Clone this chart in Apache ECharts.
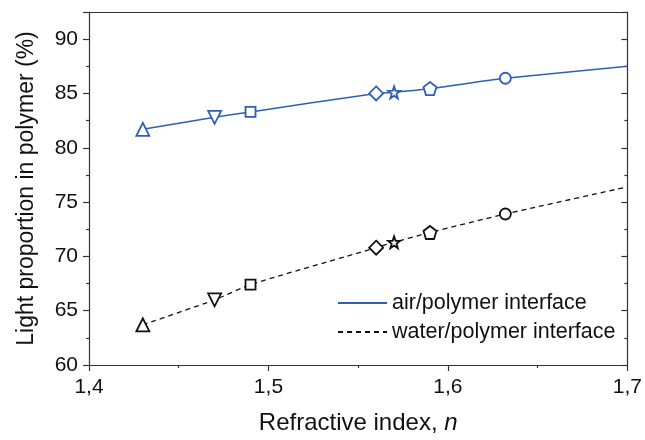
<!DOCTYPE html>
<html>
<head>
<meta charset="utf-8">
<script src="https://cdn.jsdelivr.net/npm/echarts@6/dist/echarts.min.js"></script>
<style>html,body{margin:0;padding:0;background:#fff}#c{width:645px;height:440px}</style>
</head>
<body>
<div id="c"></div>
<script>
// Data
var nValues = [1.43, 1.47, 1.49, 1.56, 1.57, 1.59, 1.632];
var markerShapes = ['triangle', 'triangleDown', 'rect', 'diamond', 'star', 'pentagon', 'circle'];
var airValues = [81.7, 82.8, 83.3, 85.0, 85.1, 85.45, 86.4];
var waterValues = [63.7, 66.0, 67.4, 70.8, 71.3, 72.2, 73.9];
var endN = 1.7;
var airEnd = 87.5;
var waterEnd = 76.4;
var xTicks = [1.4, 1.5, 1.6, 1.7];
var yTicks = [60, 65, 70, 75, 80, 85, 90];
var seriesNames = ['air/polymer interface', 'water/polymer interface'];

var STAR = 'path://M50,0L61.76,33.82L97.55,34.55L69.02,56.18L79.39,90.45L50,70L20.61,90.45L30.98,56.18L2.45,34.55L38.24,33.82Z';
var PENT = 'path://M50,0L97.55,34.55L79.39,90.45L20.61,90.45L2.45,34.55Z';
function shapeOf(s) {
  if (s === 'triangleDown') return {symbol: 'triangle', rotate: 180, size: 13};
  if (s === 'star') return {symbol: STAR, rotate: 0, size: 12};
  if (s === 'pentagon') return {symbol: PENT, rotate: 0, size: 13};
  if (s === 'rect') return {symbol: 'rect', rotate: 0, size: 10};
  if (s === 'diamond') return {symbol: 'diamond', rotate: 0, size: 14};
  if (s === 'triangle') return {symbol: 'triangle', rotate: 0, size: 13};
  return {symbol: 'circle', rotate: 0, size: 11};
}
function buildData(vals, endVal) {
  var d = nValues.map(function (n, i) {
    var sh = shapeOf(markerShapes[i]);
    return {value: [n, vals[i]], symbol: sh.symbol, symbolRotate: sh.rotate, symbolSize: sh.size};
  });
  d.push({value: [endN, endVal], symbol: 'none'});
  return d;
}
var BLUE = '#2f5fb5';
var FONT = '"Liberation Sans", Arial, sans-serif';

var chart = echarts.init(document.getElementById('c'));
chart.setOption({
  animation: false,
  backgroundColor: '#fff',
  textStyle: {fontFamily: FONT},
  grid: {left: 89, right: 16, top: 12, bottom: 71},
  legend: {
    orient: 'vertical', left: 337, top: 292, padding: 0,
    itemWidth: 49, itemHeight: 14, itemGap: 7,
    itemStyle: {opacity: 0},
    textStyle: {fontSize: 21.5, color: '#111', fontFamily: FONT},
    data: seriesNames
  },
  xAxis: [{
    type: 'value', min: xTicks[0], max: xTicks[xTicks.length - 1], interval: 0.1,
    name: 'Refractive index, {i|n}', nameLocation: 'middle', nameGap: 46,
    nameTextStyle: {fontSize: 24, color: '#111', rich: {i: {fontStyle: 'italic', fontSize: 24, color: '#111'}}},
    axisLine: {lineStyle: {color: '#333', width: 1.2}},
    axisTick: {show: true, inside: false, length: 6, lineStyle: {color: '#333', width: 1.2}},
    minorTick: {show: true, splitNumber: 2, length: 3, lineStyle: {color: '#333', width: 1.2}},
    axisLabel: {fontSize: 21, color: '#111', margin: 12, formatter: function (v) { return v.toFixed(1).replace('.', ','); }},
    splitLine: {show: false}
  }, {
    type: 'value', position: 'top', min: xTicks[0], max: xTicks[xTicks.length - 1], interval: 0.1,
    axisLine: {lineStyle: {color: '#333', width: 1.2}},
    axisTick: {show: false}, axisLabel: {show: false}, splitLine: {show: false}
  }],
  yAxis: [{
    type: 'value', min: yTicks[0], max: 92.5, interval: 5,
    name: 'Light proportion in polymer (%)', nameLocation: 'middle', nameGap: 51,
    nameTextStyle: {fontSize: 23, color: '#111'},
    axisLine: {lineStyle: {color: '#333', width: 1.2}},
    axisTick: {show: true, inside: false, length: 6, lineStyle: {color: '#333', width: 1.2}},
    minorTick: {show: true, splitNumber: 2, length: 3, lineStyle: {color: '#333', width: 1.2}},
    axisLabel: {fontSize: 21, color: '#111', margin: 11, showMaxLabel: false,
      formatter: function (v) { return yTicks.indexOf(v) >= 0 ? String(v) : ''; }},
    splitLine: {show: false}
  }, {
    type: 'value', position: 'right', min: yTicks[0], max: 92.5, interval: 5,
    axisLine: {show: true, lineStyle: {color: '#333', width: 1.2}},
    axisTick: {show: true, inside: true, length: 6, lineStyle: {color: '#333', width: 1.2}},
    minorTick: {show: true, splitNumber: 2, length: 3, lineStyle: {color: '#333', width: 1.2}},
    axisLabel: {show: false}, splitLine: {show: false}
  }],
  series: [{
    name: seriesNames[0], type: 'line', symbol: 'none', showSymbol: true, smooth: 0.2,
    lineStyle: {color: BLUE, width: 1.5},
    itemStyle: {color: '#fff', borderColor: BLUE, borderWidth: 1.8},
    color: BLUE,
    data: buildData(airValues, airEnd), z: 3
  }, {
    name: seriesNames[1], type: 'line', symbol: 'none', showSymbol: true, smooth: 0.2,
    lineStyle: {color: '#111', width: 1.3, type: [5, 4]},
    itemStyle: {color: '#fff', borderColor: '#111', borderWidth: 1.8},
    color: '#111',
    data: buildData(waterValues, waterEnd), z: 3
  }]
});
</script>
</body>
</html>
